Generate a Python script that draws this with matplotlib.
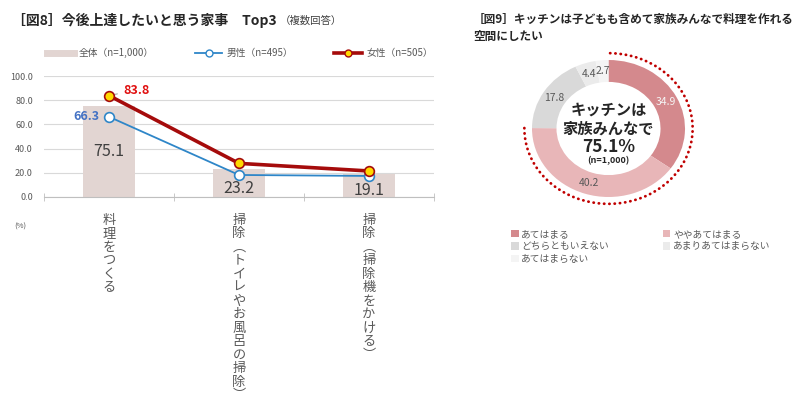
import numpy as np
import matplotlib
matplotlib.use("Agg")
import matplotlib.pyplot as plt
from matplotlib.lines import Line2D
from matplotlib.patches import Arc

plt.rcParams['font.family'] = ['Noto Sans CJK JP', 'DejaVu Sans']

# 図8 data
chores = ["料理をつくる", "掃除︵トイレやお風呂の掃除︶", "掃除︵掃除機をかける︶"]
total = [75.1, 23.2, 19.1]
male = [66.3, 18.2, 17.4]
female = [83.8, 27.8, 21.5]
legend8 = ["全体（n=1,000）", "男性（n=495）", "女性（n=505）"]

# 図9 data
answers = ["あてはまる", "ややあてはまる", "どちらともいえない", "あまりあてはまらない", "あてはまらない"]
shares = [34.9, 40.2, 17.8, 4.4, 2.7]
donut_colors = ["#D4898D", "#E8B6B8", "#D9D9D9", "#EBEBEB", "#F4F4F4"]

GRAY = "#595959"
BAR = "#E2D5D2"
BLUE = "#2E86C8"
RED = "#A50B0B"

fig = plt.figure(figsize=(8, 4.04), dpi=100)
W, H = 800, 404


def px(x0, y0, x1, y1):
    return [x0 / W, 1 - y1 / H, (x1 - x0) / W, (y1 - y0) / H]


# ---------- left chart ----------
ax = fig.add_axes(px(44, 76, 434, 197))
x = np.arange(len(chores))
ax.bar(x, total, width=0.4, color=BAR, zorder=2)
ax.plot(x, male, color=BLUE, lw=1.3, marker="o", ms=7, mfc="white", mec=BLUE, mew=1.2, zorder=3)
ax.plot(x, female, color=RED, lw=2.6, marker="o", ms=7, mfc="#FFD800", mec=RED, mew=1.2, zorder=4)

ax.set_xlim(-0.5, len(chores) - 0.5)
ax.set_ylim(0, 100)
ax.set_yticks(np.arange(0, 101, 20))
ax.set_yticklabels([f"{v:.1f}" for v in np.arange(0, 101, 20)], fontsize=6.5, color=GRAY)
ax.grid(axis="y", color="#D9D9D9", lw=0.8, zorder=0)
for s in ["top", "right", "left"]:
    ax.spines[s].set_visible(False)
ax.spines["bottom"].set_color("#BFBFBF")
ax.tick_params(axis="y", length=0, pad=8)
ax.set_xticks(x)
ax.set_xticklabels(["\n".join(c) for c in chores], fontsize=9.5, color=GRAY,
                   va="top", linespacing=1.05)
ax.tick_params(axis="x", length=0, pad=12)
ax.set_xticks(np.arange(-0.5, len(chores), 1), minor=True)
ax.tick_params(axis="x", which="minor", length=6, direction="inout", color="#BFBFBF")

# bar labels: middle of tall bars, near the base of short ones
for i, v in enumerate(total):
    ax.text(i, v / 2 if v > 40 else v * 0.3, f"{v}", ha="center", va="center",
            fontsize=11.5, color="#404040", zorder=5)

ax.annotate(f"{male[0]}", (0, male[0]), xytext=(-7, 0), textcoords="offset points",
            ha="right", va="center", fontsize=9, fontweight="bold", color="#4472C4")
ax.annotate(f"{female[0]}", (0, female[0]), xytext=(10, 4), textcoords="offset points",
            ha="left", va="center", fontsize=9, fontweight="bold", color="#E01010",
            arrowprops=dict(arrowstyle="-", color="#A6A6A6", lw=0.8, shrinkA=2, shrinkB=4))

fig.text(20 / W, 1 - 227 / H, "(%)", fontsize=5.5, color=GRAY, ha="center", va="center")

handles = [Line2D([], [], color=BAR, lw=5),
           Line2D([], [], color=BLUE, lw=1.3, marker="o", ms=5, mfc="white", mec=BLUE),
           Line2D([], [], color=RED, lw=2.6, marker="o", ms=5, mfc="#FFD800", mec=RED)]
fig.legend(handles, legend8, loc="center", bbox_to_anchor=(240 / W, 1 - 53 / H), ncol=3,
           frameon=False, fontsize=7, labelcolor=GRAY, handlelength=2.8, columnspacing=4.2,
           handletextpad=0.5)

t1 = fig.text(12 / W, 1 - 20 / H, "［図8］今後上達したいと思う家事　Top3", fontsize=10,
              fontweight="bold", color="#262626", va="center")
fig.canvas.draw()
bb = t1.get_window_extent()
fig.text(bb.x1 / W + 0.004, 1 - 21 / H, "（複数回答）", fontsize=7.5, color="#404040", va="center")

# ---------- right chart ----------
cx, cy, rx, ry = 608.5, 128.5, 76.5, 68.5
ax2 = fig.add_axes(px(cx - 110, cy - 100, cx + 110, cy + 100))
wedges, _, autotexts = ax2.pie(shares, colors=donut_colors, startangle=90, counterclock=False,
                               radius=1, wedgeprops=dict(width=0.32, edgecolor="none"),
                               autopct="%.1f", pctdistance=0.84,
                               textprops=dict(fontsize=7.5, color=GRAY))
autotexts[0].set_color("#F5F5F5")
ax2.set_aspect("auto")
ax2.set_xlim(-110 / rx, 110 / rx)
ax2.set_ylim(-100 / ry, 100 / ry)
ax2.axis("off")

agree = shares[0] + shares[1]
ax2.add_patch(Arc((0, 0), 2.2, 2.2, theta1=90 - agree * 3.6, theta2=90, color="#C00000",
                  lw=2.0, linestyle=(0, (0.1, 1.8)), capstyle="round"))

ax2.text(0, 0.27, "キッチンは", ha="center", va="center", fontsize=11, fontweight="bold", color="#262626")
ax2.text(0, 0.0, "家族みんなで", ha="center", va="center", fontsize=11, fontweight="bold", color="#262626")
ax2.text(0, -0.27, f"{agree:.1f}%", ha="center", va="center", fontsize=12.5, fontweight="bold", color="#262626")
ax2.text(0, -0.47, "(n=1,000)", ha="center", va="center", fontsize=6.5, fontweight="bold", color="#262626")

order = [0, 2, 4, 1, 3]
fig.legend([wedges[i] for i in order], [answers[i] for i in order], loc="upper left",
           bbox_to_anchor=(502 / W, 1 - 220 / H), ncol=2, frameon=False, fontsize=7,
           labelcolor=GRAY, handlelength=0.8, handleheight=0.8, handletextpad=0.3,
           columnspacing=5.5, labelspacing=0.25)

fig.text(473 / W, 1 - 28 / H, "［図9］キッチンは子どもも含めて家族みんなで料理を作れる\n空間にしたい",
         fontsize=8.4, fontweight="bold", color="#262626", va="center", linespacing=1.35)

fig.savefig("out.png", dpi=100)
